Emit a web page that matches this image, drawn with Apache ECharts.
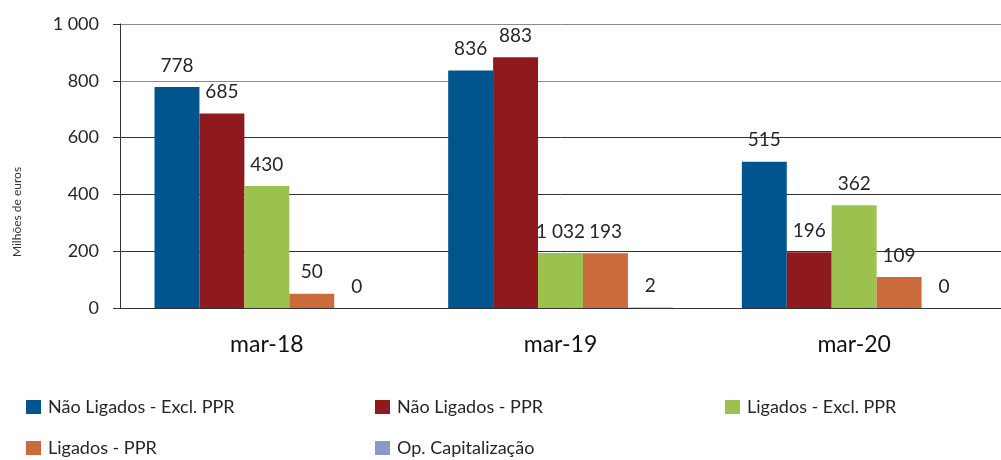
<!DOCTYPE html>
<html>
<head>
<meta charset="utf-8">
<title>Milhões de euros</title>
<script src="https://cdn.jsdelivr.net/npm/echarts@6/dist/echarts.min.js"></script>
<style>
  html, body { margin: 0; padding: 0; background: #fff; }
  #chart { width: 1001px; height: 460px; }
</style>
</head>
<body>
<div id="chart"></div>
<script>
// data
const categories = ['mar-18', 'mar-19', 'mar-20']
const yTicks = [0, 200, 400, 600, 800, 1000]
const seriesNames = ['Não Ligados - Excl. PPR', 'Não Ligados - PPR', 'Ligados - Excl. PPR', 'Ligados - PPR', 'Op. Capitalização']
const naoLigadosExcl = [778, 836, 515]
const naoLigadosPPR = [685, 883, 196]
// the original draws the mar-19 bar short (axis capped) but labels it 1 032
const ligadosExcl = [430, 194, 362]
const ligadosExclLabels = [430, 1032, 362]
const ligadosPPR = [50, 193, 109]
const opCapitalizacao = [0, 2, 0]

const colors = ['#00558f', '#8f1a1e', '#9bc24e', '#cb6a3a', '#8c98c8']
const font = 'Lato, "Noto Sans", sans-serif'

function fmt(v) {
  return String(v).replace(/\B(?=(\d{3})+(?!\d))/g, ' ')
}

const valueSets = [naoLigadosExcl, naoLigadosPPR, ligadosExcl, ligadosPPR, opCapitalizacao]
const labelSets = [naoLigadosExcl, naoLigadosPPR, ligadosExclLabels, ligadosPPR, opCapitalizacao]

const series = seriesNames.map(function(name, i) {
  return {
    name: name,
    type: 'bar',
    barGap: 0,
    barCategoryGap: '23.5%',
    itemStyle: { color: colors[i] },
    label: {
      show: true,
      position: 'top',
      distance: 12,
      fontFamily: font,
      fontSize: 19,
      color: '#262626',
      formatter: function(p) { return fmt(labelSets[i][p.dataIndex]) }
    },
    data: valueSets[i]
  }
})

// legend laid out in a 3-column grid like the original
const legendPos = [[21, 393], [370, 393], [720, 393], [21, 434], [370, 434]]
const legends = seriesNames.map(function(name, i) {
  return {
    data: [{ name: name, icon: 'rect' }],
    left: legendPos[i][0],
    top: legendPos[i][1],
    itemWidth: 15,
    itemHeight: 14,
    textStyle: { fontFamily: font, fontSize: 18, color: '#262626', padding: [0, 0, 0, 2] }
  }
})

const myChart = echarts.init(document.getElementById('chart'))
const option = {
  animation: false,
  legend: legends,
  grid: { left: 120, top: 24, width: 890, height: 284 },
  graphic: [{
    type: 'text',
    x: 17,
    y: 212,
    rotation: Math.PI / 2,
    style: {
      text: 'Milhões de euros',
      fontFamily: font,
      fontSize: 12,
      fill: '#333',
      textAlign: 'center',
      textVerticalAlign: 'middle'
    }
  }],
  xAxis: {
    type: 'category',
    data: categories,
    axisLine: { lineStyle: { color: '#333' } },
    axisTick: { length: 7, lineStyle: { color: '#333' } },
    axisLabel: { fontFamily: font, fontSize: 23, color: '#111', margin: 25 }
  },
  yAxis: {
    type: 'value',
    min: yTicks[0],
    max: yTicks[yTicks.length - 1],
    interval: 200,
    axisLine: { show: true, lineStyle: { color: '#333' } },
    axisTick: { show: true, length: 7, lineStyle: { color: '#333' } },
    axisLabel: { fontFamily: font, fontSize: 18, color: '#262626', margin: 21, formatter: fmt },
    splitLine: { lineStyle: { color: ['#333', '#333', '#333', '#333', '#8a8a8a', '#8a8a8a'] } }
  },
  series: series
}
myChart.setOption(option)
</script>
</body>
</html>
